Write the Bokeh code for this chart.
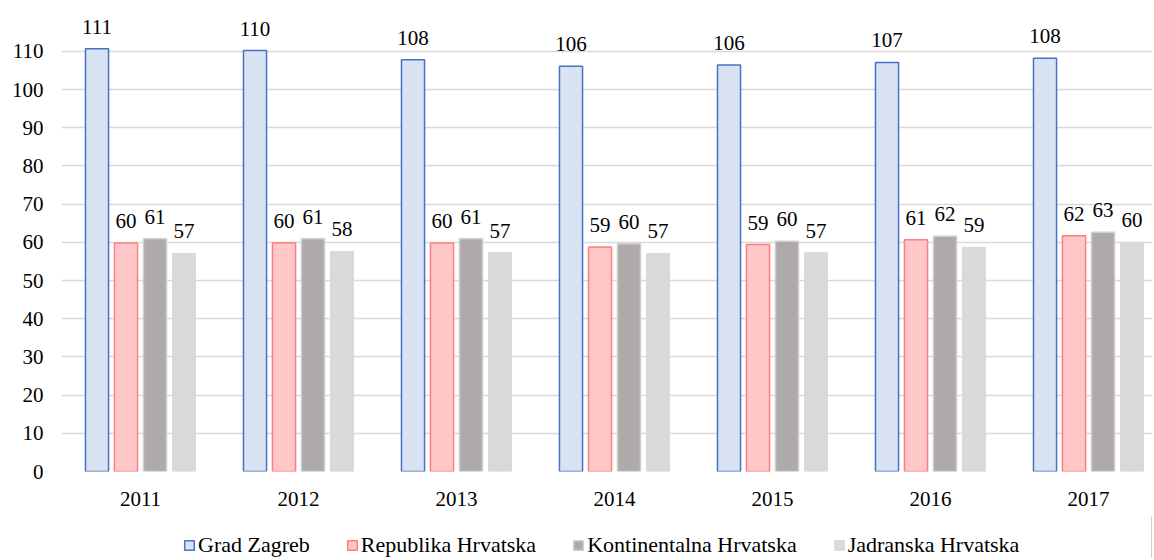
from bokeh.plotting import figure
from bokeh.layouts import column
from bokeh.models import ColumnDataSource, FixedTicker, Legend, LegendItem, Range1d, LabelSet
from bokeh.embed import file_html
from bokeh.resources import INLINE

years = ["2011", "2012", "2013", "2014", "2015", "2016", "2017"]
series_names = ["Grad Zagreb", "Republika Hrvatska", "Kontinentalna Hrvatska", "Jadranska Hrvatska"]
grad_zagreb = [110.7, 110.2, 107.8, 106.1, 106.4, 107.1, 108.2]
republika = [59.8, 59.9, 59.8, 58.8, 59.4, 60.7, 61.7]
kontinentalna = [60.9, 60.9, 60.9, 59.6, 60.3, 61.6, 62.6]
jadranska = [57.1, 57.6, 57.3, 57.1, 57.3, 58.7, 60.0]
y_ticks = [0, 10, 20, 30, 40, 50, 60, 70, 80, 90, 100, 110]

fills = ["#dae3f3", "#ffc7c7", "#aeaaaa", "#d9d9d9"]
lines = ["#4472c4", "#ff7c80", "#d0cece", "#d9d9d9"]
all_series = [grad_zagreb, republika, kontinentalna, jadranska]

FONT = "Liberation Serif"
W = 1152

p = figure(width=W, height=516, output_backend="svg", toolbar_location=None,
           x_range=Range1d(0, 6.905), y_range=Range1d(0, 123.3),
           min_border_left=61, min_border_right=0, min_border_top=0, min_border_bottom=45)
p.outline_line_color = None

step = 0.1835
bw = 0.146
offsets = [-1.5 * step, -0.5 * step, 0.5 * step, 1.5 * step]
for k, vals in enumerate(all_series):
    xs = [i + 0.5 + offsets[k] for i in range(len(years))]
    src = ColumnDataSource(dict(x=xs, top=vals, lab=["%.0f" % v for v in vals]))
    p.vbar(x="x", top="top", width=bw, source=src, fill_color=fills[k],
           line_color=lines[k], line_width=1.5 if k < 3 else 1)
    p.add_layout(LabelSet(x="x", y="top", text="lab", source=src, text_align="center",
                          text_baseline="bottom", y_offset=15, text_font=FONT,
                          text_font_size="21px", text_color="#000000"))

p.xaxis.ticker = FixedTicker(ticks=[i + 0.5 for i in range(len(years))])
p.xaxis.major_label_overrides = {i + 0.5: y for i, y in enumerate(years)}
p.yaxis.ticker = FixedTicker(ticks=y_ticks)
for ax in (p.xaxis[0], p.yaxis[0]):
    ax.axis_line_color = None
    ax.major_tick_line_color = None
    ax.minor_tick_line_color = None
    ax.major_tick_in = 0
    ax.major_tick_out = 0
    ax.major_label_text_font = FONT
    ax.major_label_text_color = "#000000"
    ax.major_label_text_font_size = "21px"
p.xaxis.major_label_standoff = 20
p.yaxis.major_label_standoff = 18
p.xgrid.grid_line_color = None
p.ygrid.grid_line_color = "#d9d9d9"
p.ygrid.grid_line_width = 1.5

# legend strip below the chart (its frame is aligned with the chart frame)
lg = figure(width=W, height=42, output_backend="svg", toolbar_location=None,
            x_range=Range1d(0, 1), y_range=Range1d(0, 1),
            min_border_left=0, min_border_right=0, min_border_top=0, min_border_bottom=0)
lg.axis.visible = False
lg.grid.visible = False
lg.outline_line_color = None
items = []
for k, name in enumerate(series_names):
    # swatch-only renderer, placed outside the visible range
    r = lg.vbar(x=[5], top=[1], width=0.1, fill_color=fills[k], line_color=lines[k],
                line_width=1.5 if k < 3 else 1)
    items.append(LegendItem(label=name, renderers=[r]))
legend = Legend(items=items, orientation="horizontal", location=(122, 0),
                label_text_font=FONT, label_text_font_size="22px", label_text_color="#000000",
                glyph_width=12, glyph_height=12, spacing=36, label_standoff=3,
                border_line_color=None, padding=0, margin=0, background_fill_alpha=0)
lg.add_layout(legend)

layout = column(p, lg, spacing=0)
open("out.html", "w").write(file_html(layout, INLINE))
